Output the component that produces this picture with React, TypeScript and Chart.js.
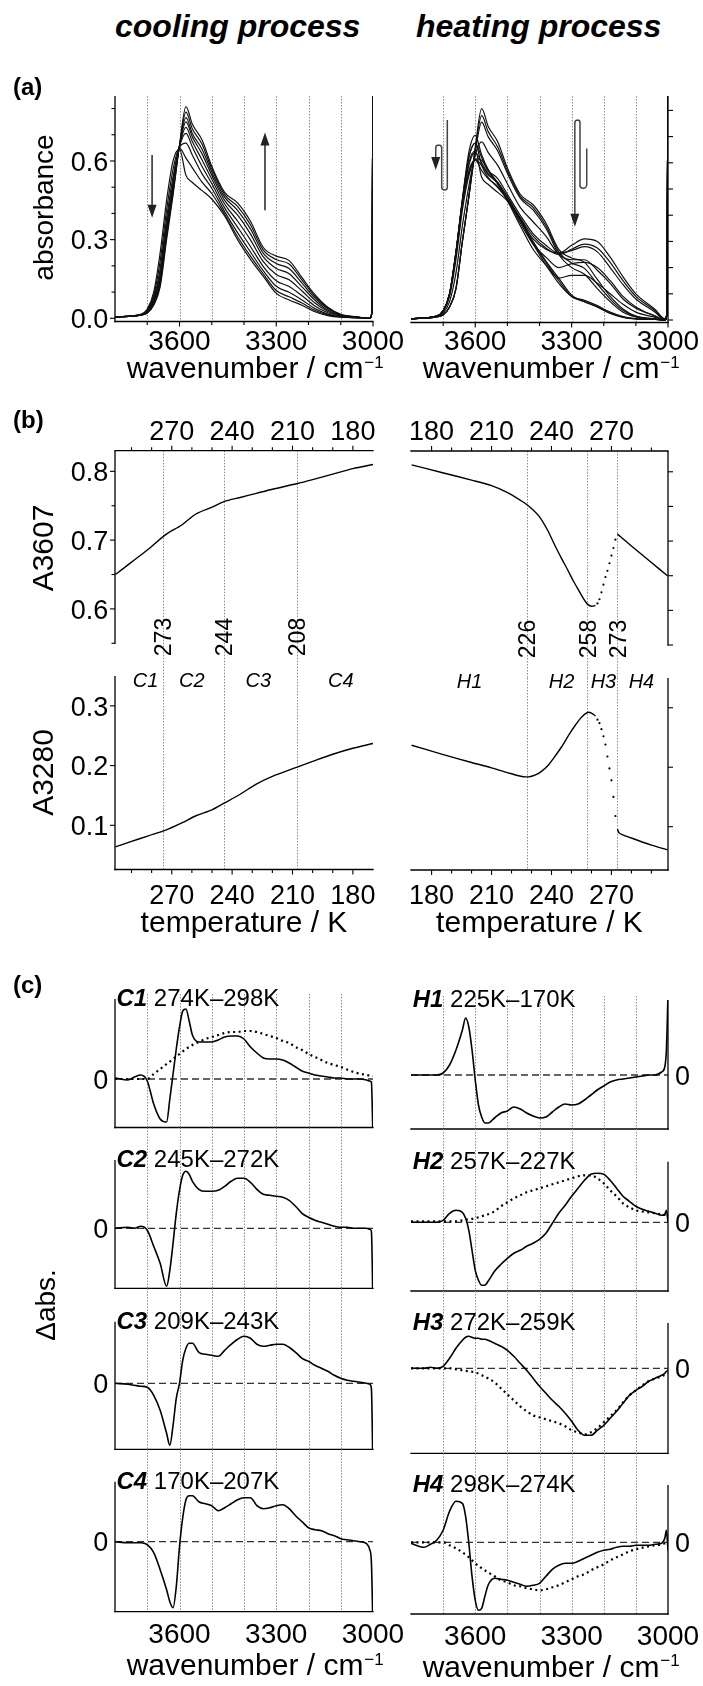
import { useEffect, useRef } from 'react';
import { Chart, registerables } from 'chart.js';

Chart.register(...registerables);

const FONT = '"Liberation Sans", Arial, Helvetica, sans-serif';
const PAGE_W = 703;
const PAGE_H = 1686;
const GRID_COLOR = '#8c8c8c';

// ================= (a) absorbance spectra =================
const WN_A = [3800, 3720, 3700, 3680, 3660, 3640, 3620, 3600, 3580, 3560, 3530, 3500, 3460, 3420, 3380, 3340, 3300, 3260, 3220, 3180, 3140, 3100, 3040, 3010, 3003, 3000];

const COOL_298 = [0.005, 0.015, 0.035, 0.10, 0.25, 0.45, 0.60, 0.645, 0.545, 0.518, 0.487, 0.455, 0.39, 0.30, 0.225, 0.16, 0.095, 0.07, 0.05, 0.025, 0.01, 0.004, 0.002, 0, 0.03, 1.2];
const COOL_280 = [0.005, 0.014, 0.031, 0.088, 0.218, 0.413, 0.568, 0.649, 0.611, 0.574, 0.519, 0.476, 0.397, 0.311, 0.237, 0.169, 0.106, 0.082, 0.058, 0.030, 0.013, 0.005, 0.002, 0, 0.03, 1.2];
const COOL_265 = [0.005, 0.014, 0.028, 0.077, 0.189, 0.380, 0.539, 0.652, 0.668, 0.622, 0.551, 0.496, 0.407, 0.327, 0.253, 0.181, 0.122, 0.099, 0.070, 0.037, 0.016, 0.006, 0.002, 0, 0.03, 1.2];
const COOL_250 = [0.005, 0.013, 0.026, 0.070, 0.171, 0.359, 0.521, 0.654, 0.705, 0.653, 0.579, 0.514, 0.421, 0.348, 0.274, 0.197, 0.143, 0.121, 0.086, 0.047, 0.021, 0.008, 0.002, 0, 0.03, 1.2];
const COOL_235 = [0.005, 0.013, 0.025, 0.065, 0.159, 0.345, 0.509, 0.656, 0.728, 0.673, 0.604, 0.531, 0.436, 0.371, 0.299, 0.216, 0.167, 0.147, 0.104, 0.058, 0.026, 0.010, 0.003, 0, 0.03, 1.2];
const COOL_220 = [0.005, 0.013, 0.023, 0.061, 0.149, 0.333, 0.499, 0.657, 0.749, 0.691, 0.627, 0.546, 0.450, 0.394, 0.322, 0.234, 0.190, 0.170, 0.120, 0.069, 0.031, 0.011, 0.003, 0, 0.03, 1.2];
const COOL_205 = [0.005, 0.012, 0.022, 0.058, 0.141, 0.324, 0.491, 0.658, 0.765, 0.704, 0.645, 0.558, 0.462, 0.412, 0.341, 0.248, 0.209, 0.190, 0.134, 0.077, 0.036, 0.013, 0.003, 0, 0.03, 1.2];
const COOL_190 = [0.005, 0.012, 0.021, 0.054, 0.130, 0.312, 0.480, 0.659, 0.786, 0.722, 0.664, 0.569, 0.472, 0.427, 0.357, 0.260, 0.224, 0.207, 0.146, 0.084, 0.039, 0.014, 0.004, 0, 0.03, 1.2];
const COOL_170 = [0.005, 0.012, 0.020, 0.050, 0.120, 0.300, 0.470, 0.660, 0.807, 0.740, 0.680, 0.580, 0.480, 0.440, 0.370, 0.270, 0.237, 0.220, 0.155, 0.090, 0.042, 0.015, 0.004, 0, 0.03, 1.2];

const HEAT_200 = [0.005, 0.012, 0.020, 0.050, 0.120, 0.300, 0.470, 0.650, 0.780, 0.720, 0.660, 0.570, 0.472, 0.430, 0.360, 0.260, 0.218, 0.197, 0.137, 0.080, 0.036, 0.013, 0.004, 0, 0.03, 1.2];
const HEAT_225 = [0.005, 0.012, 0.020, 0.050, 0.120, 0.300, 0.470, 0.640, 0.755, 0.700, 0.645, 0.560, 0.465, 0.420, 0.350, 0.250, 0.200, 0.175, 0.120, 0.070, 0.030, 0.012, 0.003, 0, 0.03, 1.2];
const HEAT_240 = [0.005, 0.013, 0.026, 0.070, 0.180, 0.360, 0.510, 0.630, 0.680, 0.640, 0.590, 0.520, 0.430, 0.375, 0.320, 0.250, 0.230, 0.230, 0.190, 0.140, 0.080, 0.045, 0.015, 0, 0.03, 1.2];
const HEAT_250 = [0.005, 0.014, 0.032, 0.090, 0.230, 0.420, 0.550, 0.615, 0.610, 0.570, 0.540, 0.480, 0.400, 0.330, 0.285, 0.255, 0.265, 0.280, 0.260, 0.200, 0.135, 0.080, 0.030, 0, 0.03, 1.2];
const HEAT_255 = [0.005, 0.015, 0.034, 0.095, 0.250, 0.440, 0.560, 0.612, 0.590, 0.555, 0.525, 0.470, 0.390, 0.320, 0.275, 0.250, 0.270, 0.290, 0.275, 0.220, 0.150, 0.090, 0.035, 0.003, 0.03, 1.2];
const HEAT_258 = [0.005, 0.015, 0.035, 0.100, 0.260, 0.450, 0.570, 0.610, 0.570, 0.540, 0.510, 0.460, 0.380, 0.310, 0.270, 0.255, 0.285, 0.310, 0.300, 0.240, 0.165, 0.100, 0.040, 0.005, 0.03, 1.2];
const HEAT_265 = [0.005, 0.015, 0.035, 0.100, 0.260, 0.450, 0.590, 0.640, 0.600, 0.560, 0.520, 0.460, 0.370, 0.290, 0.240, 0.200, 0.215, 0.220, 0.200, 0.150, 0.090, 0.050, 0.015, 0, 0.03, 1.2];
const HEAT_268 = [0.005, 0.015, 0.035, 0.100, 0.260, 0.460, 0.620, 0.675, 0.620, 0.570, 0.520, 0.455, 0.360, 0.270, 0.210, 0.160, 0.170, 0.170, 0.140, 0.100, 0.060, 0.030, 0.010, 0, 0.03, 1.2];
const HEAT_272 = [0.005, 0.015, 0.035, 0.100, 0.260, 0.460, 0.640, 0.705, 0.630, 0.575, 0.525, 0.470, 0.380, 0.290, 0.210, 0.140, 0.090, 0.075, 0.055, 0.030, 0.013, 0.005, 0.002, 0, 0.03, 1.2];
const HEAT_285 = [0.005, 0.015, 0.035, 0.100, 0.255, 0.455, 0.620, 0.675, 0.590, 0.545, 0.505, 0.460, 0.385, 0.295, 0.220, 0.150, 0.090, 0.070, 0.050, 0.027, 0.011, 0.004, 0.002, 0, 0.03, 1.2];

const COOLING_SPECTRA = [COOL_298, COOL_280, COOL_265, COOL_250, COOL_235, COOL_220, COOL_205, COOL_190, COOL_170];
const HEATING_SPECTRA = [COOL_170, HEAT_200, HEAT_225, HEAT_240, HEAT_250, HEAT_255, HEAT_258, HEAT_265, HEAT_268, HEAT_272, HEAT_285, COOL_298];

// arrows (data coordinates: wavenumber, absorbance)
const COOL_ARROW_WN = [3685, 3335];
const COOL_ARROW_FROM = [0.623, 0.412];
const COOL_ARROW_TO = [0.383, 0.709];
const HEAT_HAIRPIN_1_WN = [3687, 3687, 3704.5, 3704.5, 3723, 3723];
const HEAT_HAIRPIN_1_A = [0.763, 0.496, 0.496, 0.668, 0.668, 0.573];
const HEAT_HAIRPIN_2_WN = [3253, 3253, 3274, 3274, 3290, 3290];
const HEAT_HAIRPIN_2_A = [0.655, 0.503, 0.503, 0.763, 0.763, 0.356];

// ================= (b) temperature dependence =================
const COOL_T = [298, 290, 282, 273, 265, 258, 250, 244, 236, 228, 220, 208, 200, 190, 180, 170];
const COOL_A3607 = [0.650, 0.668, 0.686, 0.708, 0.722, 0.738, 0.748, 0.756, 0.762, 0.768, 0.774, 0.782, 0.788, 0.796, 0.804, 0.810];
const COOL_A3280 = [0.064, 0.073, 0.082, 0.092, 0.104, 0.116, 0.126, 0.137, 0.152, 0.169, 0.182, 0.197, 0.207, 0.219, 0.229, 0.237];

const HEAT_T_3607 = [170, 185, 200, 210, 218, 226, 230, 234, 238, 241, 245, 248, 251, 254, 256, 258, 260, 262];
const HEAT_A3607 = [0.810, 0.799, 0.788, 0.780, 0.770, 0.756, 0.747, 0.735, 0.716, 0.698, 0.675, 0.659, 0.642, 0.627, 0.617, 0.609, 0.606, 0.607];
const HEAT_T_DOT = [263, 264, 265, 266, 267, 268, 269, 270, 271, 272];
const HEAT_A3607_DOT = [0.610, 0.616, 0.626, 0.637, 0.648, 0.657, 0.668, 0.679, 0.690, 0.702];
const HEAT_T_3607_HI = [273, 280, 290, 298];
const HEAT_A3607_HI = [0.710, 0.693, 0.669, 0.650];

const HEAT_T_3280 = [170, 185, 200, 210, 218, 223, 226, 229, 232, 235, 238, 241, 245, 249, 252, 255, 258, 260, 262];
const HEAT_A3280 = [0.237, 0.222, 0.208, 0.199, 0.191, 0.186, 0.184, 0.184, 0.187, 0.193, 0.202, 0.215, 0.234, 0.256, 0.271, 0.284, 0.292, 0.291, 0.286];
const HEAT_A3280_DOT = [0.280, 0.274, 0.264, 0.252, 0.238, 0.218, 0.198, 0.178, 0.150, 0.118];
const HEAT_T_3280_HI = [273, 274, 280, 290, 298];
const HEAT_A3280_HI = [0.096, 0.089, 0.081, 0.069, 0.061];

const COOL_EVENT_T = [274.5, 244, 208];
const COOL_EVENT_LABELS = ['273', '244', '208'];
const HEAT_EVENT_T = [227.5, 258, 273];
const HEAT_EVENT_LABELS = ['226', '258', '273'];
const COOL_REGION_T = [283, 260, 227, 186];
const COOL_REGION_LABELS = ['C1', 'C2', 'C3', 'C4'];
const HEAT_REGION_T = [199, 245, 266, 285];
const HEAT_REGION_LABELS = ['H1', 'H2', 'H3', 'H4'];

// ================= (c) difference spectra =================
const WN_C = [3800, 3760, 3740, 3720, 3700, 3680, 3660, 3640, 3630, 3620, 3610, 3600, 3590, 3580, 3570, 3560, 3540, 3520, 3500, 3480, 3460, 3440, 3420, 3400, 3380, 3360, 3340, 3320, 3300, 3280, 3260, 3240, 3220, 3200, 3180, 3160, 3140, 3120, 3100, 3080, 3060, 3040, 3020, 3010, 3005, 3000];
const DIFF_C1 = [1, -1, 2, 4, -2, -25, -40, -43, -20, 5, 30, 52, 68, 70, 58, 44, 37, 37, 37, 39, 42, 43, 43, 40, 32, 26, 21, 20, 20, 19, 16, 12, 8, 6, 4, 3, 2, 1, 1, 0, 0, 0, -1, -2, -3, -60];
const DIFF_C2 = [0, 1, 0, 2, -2, -18, -35, -58, -42, -15, 15, 38, 53, 57, 54, 47, 39, 37, 37, 38, 42, 47, 50, 50, 46, 39, 34, 33, 32, 31, 28, 22, 15, 11, 8, 6, 4, 2, 1, 1, 0, 0, 0, -1, -3, -80];
const DIFF_C3 = [0, -1, -2, -3, -4, -12, -27, -50, -62, -42, -15, 0, 23, 35, 40, 40, 31, 29, 28, 27, 33, 39, 44, 47, 45, 39, 37, 38, 39, 39, 36, 31, 25, 22, 18, 15, 12, 8, 5, 3, 2, 1, 0, -1, -5, -90];
const DIFF_C4 = [0, -1, -1, -1, -3, -11, -28, -48, -60, -66, -45, -5, 24, 42, 46, 46, 40, 38, 36, 31, 34, 38, 42, 44, 44, 36, 33, 34, 36, 37, 33, 26, 20, 14, 12, 11, 8, 6, 3, 2, 1, 0, -2, -8, -20, -90];
const DIFF_H1 = [0, 0, 0, 0, 2, 10, 25, 45, 57, 48, 25, -5, -30, -42, -48, -48, -43, -38, -36, -32, -34, -38, -41, -43, -42, -37, -32, -29, -30, -29, -25, -20, -15, -11, -7, -5, -4, -3, -2, -1, 0, 0, 3, 8, 25, 80];
const DIFF_H2 = [0, 0, 0, 0, 2, 9, 12, 10, 4, -8, -28, -48, -58, -63, -63, -59, -49, -42, -36, -31, -28, -24, -21, -17, -11, -1, 9, 17, 26, 34, 42, 48, 49, 48, 42, 34, 26, 21, 16, 13, 11, 9, 7, 8, 12, 0];
const DIFF_H3 = [0, 0, 1, 0, 2, 10, 20, 28, 31, 32, 31, 30, 30, 29, 29, 28, 25, 22, 18, 12, 5, -2, -10, -18, -25, -32, -38, -45, -53, -62, -67, -67, -62, -57, -50, -43, -35, -27, -22, -18, -13, -10, -7, -5, -3, -2];
const DIFF_H4 = [-1, -5, -2, 2, 12, 31, 41, 39, 26, -1, -34, -58, -68, -66, -54, -43, -36, -37, -38, -40, -42, -44, -43, -41, -34, -27, -23, -21, -21, -19, -16, -13, -10, -8, -7, -5, -4, -4, -3, -3, -3, -2, -1, 4, 12, -8];

const WN_D = [3800, 3700, 3680, 3660, 3640, 3620, 3600, 3580, 3560, 3540, 3520, 3500, 3480, 3460, 3440, 3420, 3400, 3380, 3360, 3340, 3320, 3300, 3280, 3260, 3240, 3220, 3200, 3180, 3160, 3140, 3120, 3100, 3060, 3020, 3000];
const DOT_C1 = [0, 0, 5, 10, 15, 20, 25, 30, 34, 37, 40, 42, 44, 46, 47, 47, 48, 48, 47, 45, 43, 41, 38, 36, 32, 29, 25, 22, 19, 16, 14, 12, 7, 4, 3];
const DOT_H2 = [1, 1, 1, 1, 2, 3, 4, 6, 8, 11, 16, 20, 24, 27, 30, 32, 34, 36, 38, 40, 42, 44, 46, 47, 47, 44, 39, 32, 26, 19, 15, 12, 10, 8, 7];
const DOT_H3 = [0, 0, 0, -1, -2, -3, -4, -7, -10, -14, -20, -26, -32, -38, -43, -47, -49, -51, -53, -55, -58, -62, -64, -66, -64, -60, -54, -48, -42, -34, -27, -22, -13, -8, -5];
const DOT_H4 = [0, 0, -3, -6, -10, -15, -21, -26, -30, -34, -38, -40, -43, -44, -46, -47, -48, -47, -45, -43, -40, -37, -34, -32, -28, -25, -22, -18, -15, -12, -9, -7, -4, -2, 0];

const ZERO_SPAN = [3800, 3000];
const GRID_WN = [3700, 3600, 3500, 3400, 3300, 3200, 3100];

// ================= helpers =================
const pts = (xs: number[], ys: number[]) => xs.map((x, i) => ({ x, y: ys[i] }));

const specLine = (ys: number[]) => ({
  data: pts(WN_A, ys), borderColor: '#111', borderWidth: 1.2, pointRadius: 0,
  cubicInterpolationMode: 'monotone', fill: false,
});
const tLine = (xs: number[], ys: number[]) => ({
  data: pts(xs, ys), borderColor: '#000', borderWidth: 1.4, pointRadius: 0, tension: 0.3, fill: false,
});
const tDots = (xs: number[], ys: number[]) => ({
  data: pts(xs, ys), showLine: false, pointRadius: 1.1, pointBackgroundColor: '#000', pointBorderWidth: 0, borderColor: '#000',
});
const cLine = (ys: number[]) => ({
  data: pts(WN_C, ys), borderColor: '#000', borderWidth: 1.6, pointRadius: 0,
  cubicInterpolationMode: 'monotone', fill: false,
});
const cDot = (ys: number[]) => ({
  data: pts(WN_D, ys), borderColor: '#000', borderWidth: 2.2, borderDash: [2, 3.5], pointRadius: 0,
  cubicInterpolationMode: 'monotone', fill: false,
});
const zeroLine = () => ({
  data: pts(ZERO_SPAN, [0, 0]), borderColor: '#333', borderWidth: 1.3, borderDash: [7, 4], pointRadius: 0, fill: false,
});

const fontStr = (style: string, weight: string, size: number) => `${style} ${weight} ${size}px ${FONT}`;

function drawText(ctx: CanvasRenderingContext2D, t: any, x: number, y: number) {
  ctx.save();
  ctx.fillStyle = '#000';
  ctx.textBaseline = 'alphabetic';
  if (t.rot) {
    ctx.translate(x, y);
    ctx.rotate(-Math.PI / 2);
    ctx.font = fontStr(t.style || 'normal', t.weight || 'normal', t.size);
    ctx.textAlign = 'center';
    ctx.fillText(t.s, 0, 0);
  } else if (t.lead) {
    ctx.textAlign = 'left';
    ctx.font = fontStr('italic', 'bold', t.size);
    ctx.fillText(t.lead, x, y);
    const w = ctx.measureText(t.lead).width;
    ctx.font = fontStr('normal', 'normal', t.size);
    ctx.fillText(t.s, x + w, y);
  } else if (t.sup) {
    ctx.font = fontStr('normal', 'normal', t.size);
    const w = ctx.measureText(t.s).width;
    const x0 = x - w / 2;
    ctx.textAlign = 'left';
    ctx.fillText(t.s, x0, y);
    ctx.font = fontStr('normal', 'normal', Math.round(t.size * 0.57));
    ctx.fillText(t.sup, x0 + w + 1, y - t.size * 0.35);
  } else {
    ctx.font = fontStr(t.style || 'normal', t.weight || 'normal', t.size);
    ctx.textAlign = t.align || 'left';
    ctx.fillText(t.s, x, y);
  }
  ctx.restore();
}

function seg(ctx: CanvasRenderingContext2D, x1: number, y1: number, x2: number, y2: number) {
  ctx.beginPath();
  ctx.moveTo(x1, y1);
  ctx.lineTo(x2, y2);
  ctx.stroke();
}

function arrowHead(ctx: CanvasRenderingContext2D, x: number, tipY: number, dir: number) {
  const len = 13, hw = 4.5;
  ctx.beginPath();
  ctx.moveTo(x, tipY);
  ctx.lineTo(x - hw, tipY - dir * len);
  ctx.lineTo(x + hw, tipY - dir * len);
  ctx.closePath();
  ctx.fill();
}

function straightArrows(chart: any) {
  const ctx = chart.ctx, xs = chart.scales.x, ys = chart.scales.y;
  ctx.save();
  ctx.strokeStyle = '#333'; ctx.fillStyle = '#222'; ctx.lineWidth = 1.6;
  COOL_ARROW_WN.forEach((wn, i) => {
    const x = xs.getPixelForValue(wn);
    const y1 = ys.getPixelForValue(COOL_ARROW_FROM[i]);
    const y2 = ys.getPixelForValue(COOL_ARROW_TO[i]);
    const dir = y2 > y1 ? 1 : -1;
    seg(ctx, x, y1, x, y2 - dir * 10);
    arrowHead(ctx, x, y2, dir);
  });
  ctx.restore();
}

function hairpin(chart: any, wns: number[], abs: number[]) {
  const ctx = chart.ctx, xs = chart.scales.x, ys = chart.scales.y;
  const P = wns.map((w, i) => [xs.getPixelForValue(w), ys.getPixelForValue(abs[i])]);
  ctx.save();
  ctx.strokeStyle = '#444'; ctx.fillStyle = '#222'; ctx.lineWidth = 1.5;
  const n = P.length;
  const tip = P[n - 1];
  const prev = P[n - 2];
  const dir = tip[1] > prev[1] ? 1 : -1;
  ctx.beginPath();
  ctx.moveTo(P[0][0], P[0][1]);
  for (let i = 1; i < n - 1; i++) {
    const r = Math.min(Math.abs(P[i + 1][0] - P[i][0]), Math.abs(P[i - 1][0] - P[i][0]) || 99) / 2 || 3;
    ctx.arcTo(P[i][0], P[i][1], P[i + 1][0], P[i + 1][1], Math.max(1, r));
  }
  ctx.lineTo(tip[0], tip[1] - dir * 10);
  ctx.stroke();
  arrowHead(ctx, tip[0], tip[1], dir);
  ctx.restore();
}

// ================= panel definitions =================
const A_X = { min: 3000, max: 3800, reverse: true };
const TL_X = { min: 170, max: 298.2, reverse: true };
const TR_X = { min: 169.7, max: 298.3, reverse: false };

const A_Y_TICKS_ALL = [0, 0.1, 0.2, 0.3, 0.4, 0.5, 0.6, 0.7, 0.8];
const B1_Y_TICKS_ALL = [0.55, 0.6, 0.65, 0.7, 0.75, 0.8];
const B2_Y_TICKS = [0.1, 0.2, 0.3];
const WN_MAJOR = [3600, 3300, 3000];
const WN_MINOR = [3700, 3500, 3400, 3200, 3100];
const T_MAJOR_C = [270, 240, 210, 180];
const T_MINOR_C = [290, 280, 260, 250, 230, 220, 200, 190];
const T_MAJOR_H = [180, 210, 240, 270];
const T_MINOR_H = [190, 200, 220, 230, 250, 260, 280, 290];

const eventTexts = (ts: number[], labels: string[], yc: number) =>
  ts.map((t, i) => ({ s: labels[i], xv: t, dx: 8.2, y: yc, size: 23, rot: true }));
const regionTexts = (ts: number[], labels: string[], y: number) =>
  ts.map((t, i) => ({ s: labels[i], xv: t, y, size: 20, style: 'italic', align: 'center' }));

const cPanel = (o: any) => ({
  ct: o.ct, ch: o.ch,
  area: o.area,
  x: A_X, y: o.y,
  datasets: o.datasets,
  grid: GRID_WN, gridTop: o.gridTop,
  spines: o.left ? { left: true, bottom: true } : { right: true, bottom: true },
  xTicks: o.last ? { side: 'bottom', major: WN_MAJOR, minor: [], labels: true, labelY: o.labelY, size: 28, noMarks: true } : undefined,
  texts: [
    { lead: o.lead, s: o.range, x: o.left ? 116.5 : 412.7, y: o.area.t + 7.3, size: 24 },
    { s: '0', x: o.left ? 108.3 : 675, yv: 0, dy: 9.7, size: 27, align: o.left ? 'right' : 'left' },
    ...(o.extraTexts || []),
  ],
});

const PANELS: any[] = [
  {
    ct: 50, ch: 350,
    area: { l: 115, t: 96, r: 373, b: 321.5 },
    x: A_X, y: { min: -0.0122, max: 0.8478 },
    datasets: COOLING_SPECTRA.map(specLine),
    grid: GRID_WN,
    spines: { left: true, bottom: true },
    xTicks: { side: 'bottom', major: WN_MAJOR, minor: WN_MINOR, labels: true, labelY: 350, size: 28 },
    yTicks: { side: 'left', major: [0, 0.3, 0.6], minor: [0.1, 0.2, 0.4, 0.5, 0.7, 0.8], labels: true, labelX: 108.3, size: 27 },
    texts: [
      { s: 'wavenumber / cm', sup: '−1', x: 245, y: 378.3, size: 30 },
      { s: 'absorbance', x: 53, y: 207.5, size: 28, rot: true },
    ],
    extra: (chart: any) => straightArrows(chart),
  },
  {
    ct: 50, ch: 350,
    area: { l: 411, t: 96, r: 668, b: 322.5 },
    x: A_X, y: { min: -0.0095, max: 0.855 },
    datasets: HEATING_SPECTRA.map(specLine),
    grid: GRID_WN,
    spines: { right: true, bottom: true },
    xTicks: { side: 'bottom', major: WN_MAJOR, minor: WN_MINOR, labels: true, labelY: 350, size: 28 },
    yTicks: { side: 'right', major: A_Y_TICKS_ALL, minor: [], labels: false },
    texts: [{ s: 'wavenumber / cm', sup: '−1', x: 541, y: 378.3, size: 30 }],
    extra: (chart: any) => { hairpin(chart, HEAT_HAIRPIN_1_WN, HEAT_HAIRPIN_1_A); hairpin(chart, HEAT_HAIRPIN_2_WN, HEAT_HAIRPIN_2_A); },
  },
  {
    ct: 395, ch: 290,
    area: { l: 115, t: 450.7, r: 373, b: 643.3 },
    x: TL_X, y: { min: 0.55, max: 0.83 },
    datasets: [tLine(COOL_T, COOL_A3607)],
    grid: COOL_EVENT_T, gridBottom: 676,
    spines: { left: true, top: true },
    xTicks: { side: 'top', major: T_MAJOR_C, minor: T_MINOR_C, labels: true, labelY: 440, size: 27 },
    yTicks: { side: 'left', major: [0.6, 0.7, 0.8], minor: [0.55, 0.65, 0.75], labels: true, labelX: 108.3, size: 27 },
    texts: [
      { s: 'A3607', x: 53.3, y: 548, size: 30, rot: true },
      ...eventTexts(COOL_EVENT_T, COOL_EVENT_LABELS, 637),
    ],
  },
  {
    ct: 395, ch: 290,
    area: { l: 411, t: 451, r: 668, b: 645 },
    x: TR_X, y: { min: 0.55, max: 0.83 },
    datasets: [tLine(HEAT_T_3607, HEAT_A3607), tDots(HEAT_T_DOT, HEAT_A3607_DOT), tLine(HEAT_T_3607_HI, HEAT_A3607_HI)],
    grid: HEAT_EVENT_T, gridBottom: 678,
    spines: { right: true, top: true },
    xTicks: { side: 'top', major: T_MAJOR_H, minor: T_MINOR_H, labels: true, labelY: 440, size: 27 },
    yTicks: { side: 'right', major: B1_Y_TICKS_ALL, minor: [], labels: false },
    texts: eventTexts(HEAT_EVENT_T, HEAT_EVENT_LABELS, 639),
  },
  {
    ct: 650, ch: 300,
    area: { l: 115, t: 676, r: 373, b: 869.5 },
    x: TL_X, y: { min: 0.026, max: 0.35 },
    datasets: [tLine(COOL_T, COOL_A3280)],
    grid: COOL_EVENT_T,
    spines: { left: true, bottom: true },
    xTicks: { side: 'bottom', major: T_MAJOR_C, minor: T_MINOR_C, labels: true, labelY: 904, size: 27 },
    yTicks: { side: 'left', major: B2_Y_TICKS, minor: [], labels: true, labelX: 108.3, size: 27 },
    texts: [
      { s: 'A3280', x: 53.3, y: 772.5, size: 30, rot: true },
      { s: 'temperature / K', x: 244, y: 932, size: 30, align: 'center' },
      ...regionTexts(COOL_REGION_T, COOL_REGION_LABELS, 686.7),
    ],
  },
  {
    ct: 650, ch: 300,
    area: { l: 411, t: 678, r: 668, b: 870 },
    x: TR_X, y: { min: 0.0272, max: 0.35 },
    datasets: [tLine(HEAT_T_3280, HEAT_A3280), tDots(HEAT_T_DOT, HEAT_A3280_DOT), tLine(HEAT_T_3280_HI, HEAT_A3280_HI)],
    grid: HEAT_EVENT_T,
    spines: { right: true, bottom: true },
    xTicks: { side: 'bottom', major: T_MAJOR_H, minor: T_MINOR_H, labels: true, labelY: 904, size: 27 },
    yTicks: { side: 'right', major: B2_Y_TICKS, minor: [], labels: false },
    texts: [
      { s: 'temperature / K', x: 539.5, y: 932, size: 30, align: 'center' },
      ...regionTexts(HEAT_REGION_T, HEAT_REGION_LABELS, 688),
    ],
  },
  cPanel({ left: true, ct: 960, ch: 190, area: { l: 115, t: 999, r: 373, b: 1127.5 }, y: { min: -48.5, max: 80 }, gridTop: 994,
    datasets: [cLine(DIFF_C1), cDot(DOT_C1), zeroLine()], lead: 'C1', range: ' 274K–298K' }),
  cPanel({ left: true, ct: 1110, ch: 200, area: { l: 115, t: 1160, r: 373, b: 1288.3 }, y: { min: -60, max: 68.3 }, gridTop: 1127.5,
    datasets: [cLine(DIFF_C2), zeroLine()], lead: 'C2', range: ' 245K–272K' }),
  cPanel({ left: true, ct: 1260, ch: 210, area: { l: 115, t: 1321.7, r: 373, b: 1449.3 }, y: { min: -66, max: 61.6 }, gridTop: 1288.3,
    datasets: [cLine(DIFF_C3), zeroLine()], lead: 'C3', range: ' 209K–243K',
    extraTexts: [{ s: 'Δabs.', x: 55, y: 1305, size: 28, rot: true }] }),
  cPanel({ left: true, last: true, labelY: 1643, ct: 1420, ch: 266, area: { l: 115, t: 1481.7, r: 373, b: 1611.7 }, y: { min: -70, max: 60 }, gridTop: 1449.3,
    datasets: [cLine(DIFF_C4), zeroLine()], lead: 'C4', range: ' 170K–207K',
    extraTexts: [{ s: 'wavenumber / cm', sup: '−1', x: 245, y: 1675, size: 30 }] }),
  cPanel({ left: false, ct: 960, ch: 190, area: { l: 411, t: 1000, r: 668, b: 1129 }, y: { min: -54, max: 75 }, gridTop: 996,
    datasets: [cLine(DIFF_H1), zeroLine()], lead: 'H1', range: ' 225K–170K' }),
  cPanel({ left: false, ct: 1110, ch: 200, area: { l: 411, t: 1161.7, r: 668, b: 1291 }, y: { min: -68.7, max: 60.6 }, gridTop: 1129,
    datasets: [cLine(DIFF_H2), cDot(DOT_H2), zeroLine()], lead: 'H2', range: ' 257K–227K' }),
  cPanel({ left: false, ct: 1260, ch: 210, area: { l: 411, t: 1323, r: 668, b: 1453.3 }, y: { min: -85, max: 45.3 }, gridTop: 1291,
    datasets: [cLine(DIFF_H3), cDot(DOT_H3), zeroLine()], lead: 'H3', range: ' 272K–259K' }),
  cPanel({ left: false, last: true, labelY: 1645, ct: 1420, ch: 266, area: { l: 411, t: 1485, r: 668, b: 1614 }, y: { min: -71.7, max: 57.3 }, gridTop: 1453.3,
    datasets: [cLine(DIFF_H4), cDot(DOT_H4), zeroLine()], lead: 'H4', range: ' 298K–274K',
    extraTexts: [{ s: 'wavenumber / cm', sup: '−1', x: 541, y: 1676.7, size: 30 }] }),
];

function decorPlugin(p: any) {
  const cy = (py: number) => py - p.ct;
  return {
    id: 'decor',
    beforeDatasetsDraw(chart: any) {
      const ctx = chart.ctx, A = chart.chartArea, xs = chart.scales.x;
      ctx.save();
      ctx.strokeStyle = GRID_COLOR;
      ctx.lineWidth = 1;
      ctx.setLineDash([1.5, 1.5]);
      const top = p.gridTop !== undefined ? cy(p.gridTop) : A.top;
      const bot = p.gridBottom !== undefined ? cy(p.gridBottom) : A.bottom;
      for (const v of p.grid) {
        const x = Math.round(xs.getPixelForValue(v)) + 0.5;
        seg(ctx, x, top, x, bot);
      }
      ctx.restore();
    },
    afterDatasetsDraw(chart: any) {
      const ctx = chart.ctx, A = chart.chartArea, xs = chart.scales.x, ys = chart.scales.y;
      ctx.save();
      ctx.strokeStyle = '#000';
      ctx.lineWidth = 1.3;
      ctx.setLineDash([]);
      const s = p.spines;
      if (s.left) seg(ctx, A.left, A.top, A.left, A.bottom + 0.65);
      if (s.right) seg(ctx, A.right, A.top, A.right, A.bottom + 0.65);
      if (s.top) seg(ctx, A.left - 0.65, A.top, A.right + 0.65, A.top);
      if (s.bottom) seg(ctx, A.left - 0.65, A.bottom, A.right + 0.65, A.bottom);
      ctx.lineWidth = 1.1;
      if (p.xTicks) {
        const t = p.xTicks;
        const y0 = t.side === 'top' ? A.top : A.bottom;
        const dir = t.side === 'top' ? -1 : 1;
        if (!t.noMarks) {
          t.major.forEach((v: number) => { const x = xs.getPixelForValue(v); seg(ctx, x, y0, x, y0 + dir * 5); });
          t.minor.forEach((v: number) => { const x = xs.getPixelForValue(v); seg(ctx, x, y0, x, y0 + dir * 3.5); });
        }
        if (t.labels) {
          t.major.forEach((v: number) => drawText(ctx, { s: String(v), size: t.size, align: 'center' }, xs.getPixelForValue(v), cy(t.labelY)));
        }
      }
      if (p.yTicks) {
        const t = p.yTicks;
        const x0 = t.side === 'left' ? A.left : A.right;
        const dir = t.side === 'left' ? -1 : 1;
        t.major.forEach((v: number) => { const y = ys.getPixelForValue(v); seg(ctx, x0, y, x0 + dir * 5, y); });
        t.minor.forEach((v: number) => { const y = ys.getPixelForValue(v); seg(ctx, x0, y, x0 + dir * 3.5, y); });
        if (t.labels) {
          t.major.forEach((v: number) => drawText(ctx, { s: v.toFixed(1), size: t.size, align: 'right' }, t.labelX, ys.getPixelForValue(v) + t.size * 0.358));
        }
      }
      ctx.restore();
      if (p.extra) p.extra(chart);
      for (const t of p.texts || []) {
        const x = t.xv !== undefined ? xs.getPixelForValue(t.xv) + (t.dx || 0) : t.x;
        const y = t.yv !== undefined ? ys.getPixelForValue(t.yv) + (t.dy || 0) : cy(t.y);
        drawText(ctx, t, x, y);
      }
    },
  };
}

function buildChart(canvas: HTMLCanvasElement, p: any) {
  const padding = {
    left: p.area.l,
    right: PAGE_W - p.area.r,
    top: p.area.t - p.ct,
    bottom: p.ct + p.ch - p.area.b,
  };
  return new Chart(canvas, {
    type: 'line',
    data: { datasets: p.datasets },
    options: {
      animation: false,
      responsive: false,
      events: [],
      layout: { padding },
      plugins: { legend: { display: false }, tooltip: { enabled: false }, title: { display: false } },
      scales: {
        x: { type: 'linear', display: false, min: p.x.min, max: p.x.max, reverse: p.x.reverse },
        y: { type: 'linear', display: false, min: p.y.min, max: p.y.max },
      },
    } as any,
    plugins: [decorPlugin(p)],
  } as any);
}

const Label = ({ text, left, baseline, size, weight, italic }: any) => (
  <div style={{
    position: 'absolute', left, top: baseline - 0.8465 * size, fontSize: size, lineHeight: `${size}px`,
    fontFamily: FONT, fontWeight: weight || 'normal', fontStyle: italic ? 'italic' : 'normal', whiteSpace: 'nowrap', color: '#000',
  }}>{text}</div>
);

export default function App() {
  const refs = useRef<(HTMLCanvasElement | null)[]>([]);
  useEffect(() => {
    const charts = PANELS.map((p, i) => buildChart(refs.current[i] as HTMLCanvasElement, p));
    return () => charts.forEach((c) => c.destroy());
  }, []);
  return (
    <div style={{ position: 'absolute', left: 0, top: 0, width: PAGE_W, height: PAGE_H, background: '#fff', overflow: 'hidden' }}>
      {PANELS.map((p, i) => (
        <canvas
          key={i}
          ref={(el) => { refs.current[i] = el; }}
          width={PAGE_W}
          height={p.ch}
          style={{ position: 'absolute', left: 0, top: p.ct, width: PAGE_W, height: p.ch }}
        />
      ))}
      <Label text="cooling process" left={115} baseline={37} size={32} weight="bold" italic />
      <Label text="heating process" left={416} baseline={37} size={32} weight="bold" italic />
      <Label text="(a)" left={13} baseline={95} size={24} weight="bold" />
      <Label text="(b)" left={13} baseline={428} size={24} weight="bold" />
      <Label text="(c)" left={13} baseline={993} size={24} weight="bold" />
    </div>
  );
}
